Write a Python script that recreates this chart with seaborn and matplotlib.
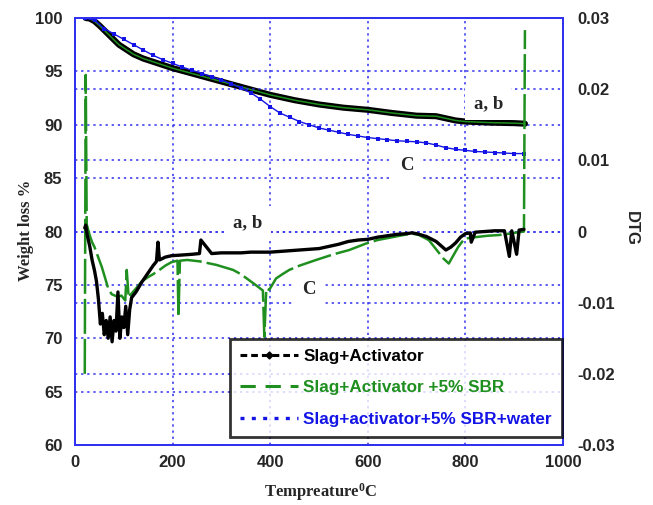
import matplotlib
matplotlib.use("Agg")
import matplotlib.pyplot as plt
import seaborn as sns
import pandas as pd
from matplotlib.lines import Line2D

# ---------------- data ----------------
# TG curves (left axis, weight %)
tg_ab_temp = [22, 30, 40, 50, 60, 70, 80, 90, 100, 110, 120, 140, 160, 180, 200,
              240, 280, 320, 360, 400, 450, 500, 550, 600, 650, 700, 740, 760,
              780, 800, 850, 900, 922]
tg_ab_val = [100.0, 99.95, 99.7, 99.3, 98.85, 98.4, 97.95, 97.5, 97.2, 96.9, 96.6,
             96.2, 95.9, 95.6, 95.3, 94.8, 94.3, 93.8, 93.3, 92.8, 92.3, 91.9,
             91.6, 91.4, 91.1, 90.85, 90.8, 90.6, 90.4, 90.3, 90.2, 90.15, 90.1]

tg_c_temp = [20, 40, 60, 80, 100, 120, 140, 160, 180, 200, 220, 240, 260, 280, 300,
             320, 340, 360, 380, 400, 420, 440, 460, 480, 500, 520, 540, 560, 580,
             600, 620, 640, 660, 680, 700, 720, 740, 760, 780, 800, 820, 840, 860,
             880, 900, 920]
tg_c_val = [100.0, 99.8, 99.0, 98.5, 98.0, 97.5, 97.0, 96.5, 96.1, 95.75, 95.4,
            95.1, 94.8, 94.5, 94.2, 93.85, 93.45, 93.0, 92.4, 91.7, 91.1, 90.7,
            90.3, 90.0, 89.7, 89.5, 89.3, 89.1, 88.95, 88.8, 88.7, 88.6, 88.5,
            88.45, 88.4, 88.3, 88.1, 87.85, 87.7, 87.6, 87.5, 87.45, 87.4, 87.35,
            87.3, 87.3]

# DTG curves (right axis)
dtg_black_temp = [20, 22, 25, 30, 35, 40, 44, 48, 52, 56, 60, 64, 68, 72, 76, 80,
                  84, 88, 92, 96, 100, 104, 108, 112, 116, 125, 137, 150, 160, 167,
                  170, 173, 185, 198, 220, 240, 255, 258, 280, 300, 320, 340, 360,
                  380, 400, 420, 440, 460, 480, 500, 520, 540, 560, 580, 600, 620,
                  640, 660, 680, 690, 700, 720, 740, 750, 760, 770, 780, 790, 800,
                  810, 812, 820, 840, 860, 880, 890, 895, 905, 910, 920]
dtg_black_val = [0.0005, 0.0009, -0.0005, -0.0020, -0.0040, -0.0055, -0.0070,
                 -0.0095, -0.0130, -0.0115, -0.0145, -0.0125, -0.0150, -0.0120,
                 -0.0155, -0.0125, -0.0140, -0.0085, -0.0150, -0.0120, -0.0135,
                 -0.0105, -0.0145, -0.0110, -0.0093, -0.0085, -0.0071, -0.0058,
                 -0.0048, -0.0042, -0.0015, -0.0040, -0.0036, -0.0034, -0.0033,
                 -0.0032, -0.0031, -0.0012, -0.0031, -0.0030, -0.0030, -0.0030,
                 -0.0029, -0.0029, -0.0029, -0.0028, -0.0027, -0.0026, -0.0025,
                 -0.0024, -0.0021, -0.0018, -0.0014, -0.0012, -0.0011, -0.0008,
                 -0.0006, -0.0004, -0.0003, -0.0002, -0.0003, -0.0007, -0.0014,
                 -0.0020, -0.0026, -0.0022, -0.0016, -0.0008, -0.0003, -0.0002,
                 -0.0015, -0.0001, 0.0000, 0.0001, 0.0001, -0.0035, 0.0001,
                 -0.0032, 0.0002, 0.0003]

dtg_green_temp = [20, 22, 24, 30, 35, 40, 48, 55, 62, 68, 75, 88, 95, 103, 106,
                  110, 115, 125, 137, 150, 160, 171, 185, 198, 210, 212, 215, 230,
                  256, 290, 324, 340, 358, 370, 385, 388, 392, 398, 412, 425, 439,
                  460, 494, 530, 562, 596, 620, 650, 680, 691, 705, 725, 740, 755,
                  766, 775, 785, 798, 820, 845, 868, 890, 910, 920, 922]
dtg_green_val = [-0.0200, 0.0220, 0.0010, -0.0005, -0.0015, -0.0022, -0.0037,
                 -0.0050, -0.0066, -0.0080, -0.0088, -0.0092, -0.0090, -0.0097,
                 -0.0054, -0.0093, -0.0088, -0.0080, -0.0070, -0.0064, -0.0060,
                 -0.0055, -0.0048, -0.0043, -0.0041, -0.0120, -0.0041, -0.0040,
                 -0.0042, -0.0047, -0.0054, -0.0060, -0.0069, -0.0075, -0.0083,
                 -0.0148, -0.0080, -0.0082, -0.0066, -0.0060, -0.0054, -0.0048,
                 -0.0040, -0.0032, -0.0026, -0.0017, -0.0012, -0.0008, -0.0004,
                 -0.0003, -0.0005, -0.0012, -0.0025, -0.0038, -0.0045, -0.0034,
                 -0.0022, -0.0010, -0.0008, -0.0006, -0.0005, -0.0003, -0.0001,
                 0.0000, 0.0283]

legend_labels = ["Slag+Activator", "Slag+Activator +5% SBR",
                 "Slag+activator+5% SBR+water"]
left_ticks = [60, 65, 70, 75, 80, 85, 90, 95, 100]
right_ticks = [-0.03, -0.02, -0.01, 0.0, 0.01, 0.02, 0.03]
right_tick_labels = ["-0.03", "-0.02", "-0.01", "0", "0.01", "0.02", "0.03"]
x_ticks = [0, 200, 400, 600, 800, 1000]

# ---------------- style ----------------
sns.set_style("white")
plt.rcParams["font.family"] = ["Liberation Sans", "DejaVu Sans"]
plt.rcParams["font.weight"] = "bold"
plt.rcParams["mathtext.fontset"] = "custom"
plt.rcParams["mathtext.rm"] = "Liberation Serif:bold"
plt.rcParams["mathtext.bf"] = "Liberation Serif:bold"
plt.rcParams["mathtext.it"] = "Liberation Serif:bold"

BLACK = "#000000"
GREEN = "#1f8f1f"
BLUE = "#1414e6"
GRIDC = "#3030f0"
GRID = dict(color=GRIDC, linestyle=(0, (1.5, 2.5)), linewidth=1.1)
SERIF = ["Liberation Serif", "DejaVu Serif"]

fig = plt.figure(figsize=(6.53, 5.05), dpi=100)
ax = fig.add_axes([75 / 653, 60 / 505, 488 / 653, 427 / 505])
ax2 = ax.twinx()

tg_ab = pd.DataFrame({"T": tg_ab_temp, "W": tg_ab_val})
tg_c = pd.DataFrame({"T": tg_c_temp, "W": tg_c_val})
dtg_b = pd.DataFrame({"T": dtg_black_temp, "D": dtg_black_val})
dtg_g = pd.DataFrame({"T": dtg_green_temp, "D": dtg_green_val})

# TG curves
sns.lineplot(data=tg_ab, x="T", y="W", ax=ax, color=BLACK, linewidth=4.4,
             sort=False, estimator=None, solid_capstyle="round", zorder=3)
sns.lineplot(data=tg_ab, x="T", y="W", ax=ax, color=GREEN, linewidth=1.1,
             sort=False, estimator=None, zorder=4)
sns.lineplot(data=tg_c, x="T", y="W", ax=ax, color=BLUE, linewidth=1.0,
             marker="s", markersize=3.2, markeredgewidth=0, sort=False,
             estimator=None, zorder=5)

# DTG curves
sns.lineplot(data=dtg_g, x="T", y="D", ax=ax2, color=GREEN, linewidth=1.8,
             linestyle=(0, (14, 2)), sort=False, estimator=None, zorder=3)
sns.lineplot(data=dtg_b, x="T", y="D", ax=ax2, color=BLACK, linewidth=2.4,
             sort=False, estimator=None, zorder=4)

# axes
ax.set_xlim(0, 1000)
ax.set_ylim(60, 100)
ax2.set_ylim(-0.03, 0.03)
ax.set_xticks(x_ticks)
ax.set_yticks(left_ticks)
ax2.set_yticks(right_ticks)
ax2.set_yticklabels(right_tick_labels)
ax.tick_params(axis="y", labelsize=12, pad=9, length=0)
ax.tick_params(axis="x", labelsize=12, pad=7, length=0)
ax2.tick_params(axis="y", labelsize=12, pad=10, length=0)

ax.grid(True, **GRID)
ax2.grid(True, axis="y", **GRID)
ax2.grid(False, axis="x")
ax.set_axisbelow(True)
for a in (ax, ax2):
    for s in a.spines.values():
        s.set_color(GRIDC)
        s.set_linewidth(1.3)
        s.set_linestyle((0, (2, 1)))

ax.set_xlabel(r"Tempreature$^{0}$C", family=SERIF, fontsize=12,
              fontweight="bold", ha="center", va="center")
ax.xaxis.set_label_coords(0.504, -0.110)
ax.set_ylabel("Weight loss %", family=SERIF, fontsize=12, fontweight="bold",
              ha="center", va="center")
ax.yaxis.set_label_coords(-0.100, 0.503)
ax2.set_ylabel("DTG", fontsize=12, fontweight="bold", rotation=270,
               ha="center", va="center")
ax2.yaxis.set_label_coords(1.141, 0.508)

# annotations
box = dict(boxstyle="square,pad=0.45", facecolor="white", edgecolor="none")
for txt, tx, ty in [("a, b", 847, 92.0), ("C", 680, 86.2),
                    ("a, b", 354, 80.8), ("C", 480, 74.6)]:
    ax2.text(tx, ty, txt, transform=ax.transData, family=SERIF, fontsize=13.5,
             fontweight="bold", ha="center", va="center", bbox=box, zorder=6)

# legend
handles = [
    Line2D([], [], color=BLACK, linestyle=(0, (2.2, 1.3)), linewidth=2.2,
           marker="D", markersize=3.5),
    Line2D([], [], color=GREEN, linestyle=(0, (5, 3.2)), linewidth=2.2),
    Line2D([], [], color=BLUE, linestyle=(0, (1.2, 2.2)), linewidth=2.4),
]
leg = ax2.legend(handles, legend_labels, loc="lower right",
                 bbox_to_anchor=(0.998, 0.019), borderaxespad=0,
                 fontsize=12.3, handlelength=3.4, handletextpad=0.3,
                 labelspacing=0.95, borderpad=0.6, frameon=True,
                 fancybox=False, numpoints=1)
leg.get_frame().set_edgecolor("black")
leg.get_frame().set_linewidth(2.0)
leg.set_zorder(10)
for t, c in zip(leg.get_texts(), [BLACK, GREEN, BLUE]):
    t.set_color(c)
    t.set_fontweight("bold")

fig.savefig("out.png", dpi=100)
